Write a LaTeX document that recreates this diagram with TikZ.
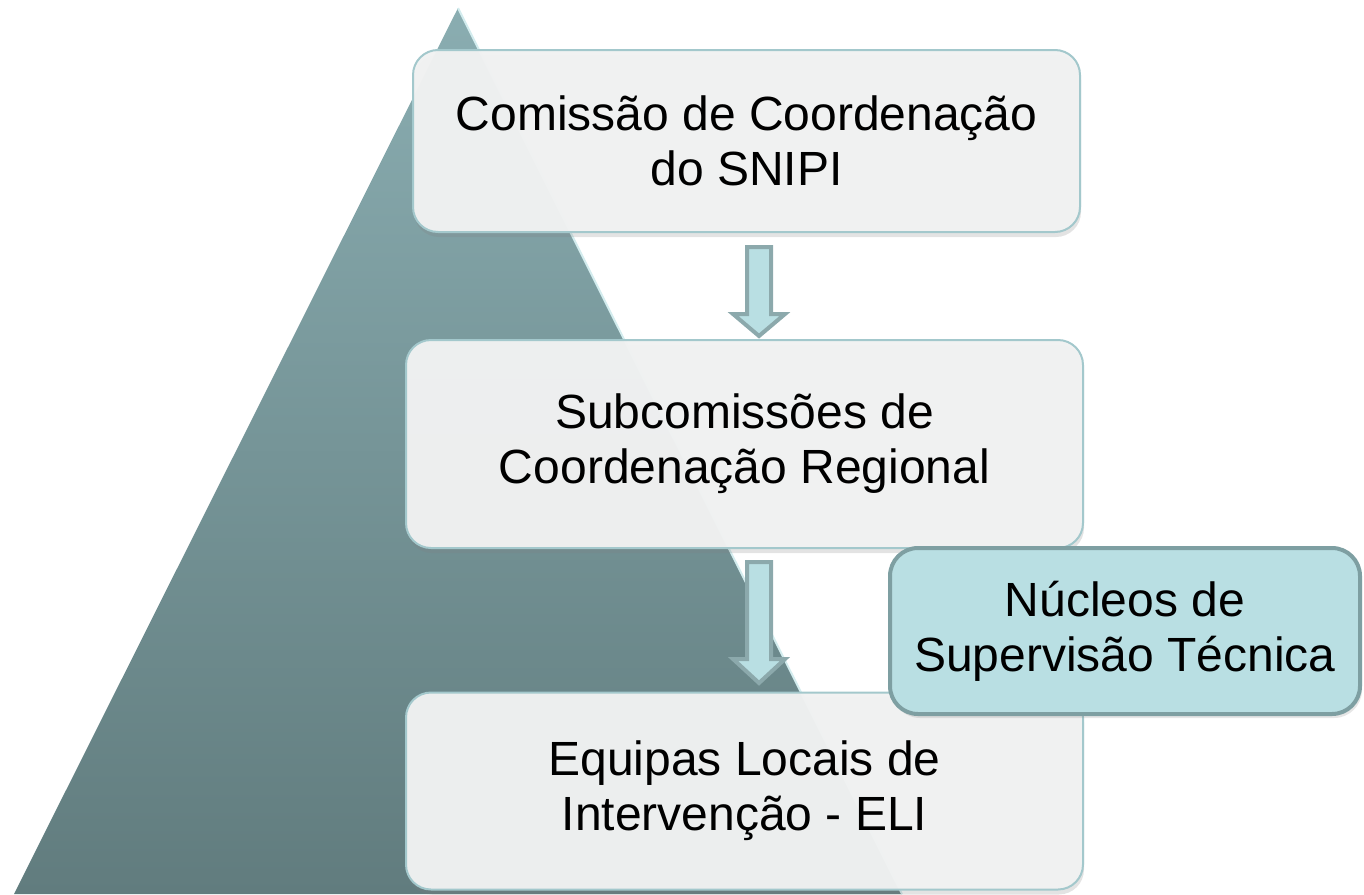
\documentclass[tikz,border=0pt]{standalone}
\usepackage{fontspec}
\setmainfont{Liberation Sans}
\usetikzlibrary{calc,shadows}
\definecolor{triTop}{HTML}{8AADB1}
\definecolor{triBot}{HTML}{617C7E}
\definecolor{triEdge}{HTML}{D3ECEE}
\definecolor{boxFill}{HTML}{F1F2F2}
\definecolor{boxLine}{HTML}{A3C8CC}
\definecolor{tealFill}{HTML}{B9DFE3}
\definecolor{tealLine}{HTML}{7E9FA2}
\definecolor{arrLine}{HTML}{8CA9AC}
\begin{document}
\begin{tikzpicture}[x=1pt,y=-1pt,
  lbl/.style={font=\fontsize{48}{55}\selectfont, align=center, text=black},
  graybox/.style={lbl, draw=boxLine, line width=2pt, fill=boxFill, fill opacity=0.97, text opacity=1,
    rounded corners=25pt, drop shadow={shadow xshift=1pt, shadow yshift=-5pt, opacity=0.22}},
  tealbox/.style={lbl, draw=tealLine, line width=4pt, fill=tealFill, rounded corners=28pt,
    drop shadow={shadow xshift=2pt, shadow yshift=-4pt, opacity=0.2}},
  arrowshape/.style={draw=arrLine, line width=4pt, fill=tealFill}]
\useasboundingbox (0,0) rectangle (1364,894);
% pyramid
\coordinate (apex) at (458,8);
\coordinate (bl) at (14,894);
\coordinate (br) at (902,894);
\shade[top color=triTop, bottom color=triBot] (apex) -- (br) -- (bl) -- cycle;
\draw[triEdge, line width=2pt] (apex) -- (br);
% boxes
\node[graybox, minimum width=667, minimum height=182] (b1) at (746.5,141) {Comissão de Coordenação\\do SNIPI};
\node[graybox, minimum width=677, minimum height=208] (b2) at (744.5,444) {Subcomissões de\\Coordenação Regional};
\node[graybox, minimum width=677, minimum height=197] (b3) at (744.5,791) {Equipas Locais de\\Intervenção - ELI};
% arrows
\coordinate (a1s) at (759,247);
\coordinate (a1h) at (759,314);
\coordinate (a1e) at (759,336);
\draw[arrowshape] ($(a1s)+(-12,0)$) -- ($(a1s)+(12,0)$) -- ($(a1h)+(12,0)$) -- ($(a1h)+(26,0)$)
  -- (a1e) -- ($(a1h)+(-26,0)$) -- ($(a1h)+(-12,0)$) -- cycle;
\coordinate (a2s) at (759,562);
\coordinate (a2h) at (759,659);
\coordinate (a2e) at (759,683);
\draw[arrowshape] ($(a2s)+(-12,0)$) -- ($(a2s)+(12,0)$) -- ($(a2h)+(12,0)$) -- ($(a2h)+(26,0)$)
  -- (a2e) -- ($(a2h)+(-26,0)$) -- ($(a2h)+(-12,0)$) -- cycle;
% side box
\node[tealbox, minimum width=470, minimum height=166] (n1) at (1125,631) {Núcleos de\\Supervisão Técnica};
\end{tikzpicture}
\end{document}
